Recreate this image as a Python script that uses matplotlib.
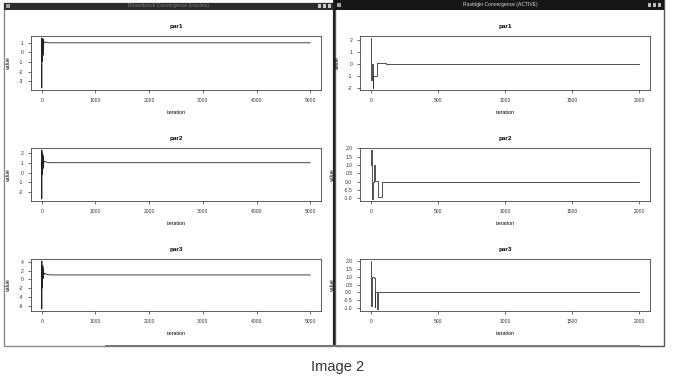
import matplotlib
matplotlib.use("Agg")
import matplotlib.pyplot as plt
from matplotlib.patches import Rectangle

W, H = 678, 384

# Rosenbrock run (5000 iterations), value per iteration at the change points
rb_iter = [0, 1, 2, 4, 6, 8, 10, 12, 14, 16, 18, 20, 22, 24, 26, 28, 30, 32, 34, 36, 38, 40, 60, 100, 150, 5000]
rb_par1 = [-1.2, -3.7, 1.5, -1.0, 1.3, -0.5, 1.4, 0.0, 1.2, -0.8, 1.3, 0.2, 1.4, -0.3, 1.3, 0.3, 1.2, 0.5, 1.2, 0.8, 1.1, 1.05, 1.08, 1.02, 1.0, 1.0]
rb_par2 = [1.0, -2.7, 2.3, 0.0, 2.0, -0.2, 1.8, 0.3, 1.9, 0.1, 1.7, 0.5, 1.8, 0.4, 1.6, 0.8, 1.5, 0.9, 1.3, 1.0, 1.2, 1.1, 1.1, 1.05, 1.0, 1.0]
rb_par3 = [0.5, -6.8, 4.2, -2.0, 3.0, -1.0, 3.2, 0.0, 2.8, -0.5, 2.5, 0.5, 3.0, 0.2, 2.0, 0.8, 2.2, 0.6, 1.8, 1.0, 1.5, 1.2, 1.3, 1.1, 1.0, 1.0]
rb_yticks = [[-3, -2, -1, 0, 1], [-2, -1, 0, 1, 2], [-6, -4, -2, 0, 2, 4]]

# Rastrigin run (2000 iterations), step changes
ra_iter1 = [0, 4, 8, 14, 18, 50, 110, 2000]
ra_par1 = [2.2, -1.3, 0.0, -2.0, -1.0, 0.08, 0.0, 0.0]
ra_iter2 = [0, 3, 10, 14, 27, 34, 52, 82, 2000]
ra_par2 = [1.0, 1.9, -1.05, -0.05, 1.0, 0.05, -0.95, 0.0, 0.0]
ra_iter3 = [0, 3, 10, 22, 28, 32, 49, 54, 107, 2000]
ra_par3 = [2.0, -0.85, 1.0, 0.9, -0.95, 0.0, -1.05, 0.05, 0.0, 0.0]
ra_yticks = [[-2, -1, 0, 1, 2], [-1.0, -0.5, 0.0, 0.5, 1.0, 1.5, 2.0], [-1.0, -0.5, 0.0, 0.5, 1.0, 1.5, 2.0]]

names = ["par1", "par2", "par3"]


def box(x0, y0, x1, y1):
    return [x0 / W, 1 - y1 / H, (x1 - x0) / W, (y1 - y0) / H]


fig = plt.figure(figsize=(W / 100, H / 100), dpi=100)
fig.patch.set_facecolor("white")
plt.rcParams['font.family'] = ['Liberation Sans', 'DejaVu Sans']


# window frames and title bars
def rect(x0, y0, x1, y1, **kw):
    fig.patches.append(Rectangle((x0 / W, 1 - y1 / H), (x1 - x0) / W, (y1 - y0) / H,
                                 transform=fig.transFigure, figure=fig, zorder=-1, **kw))


rect(4, 3, 333, 346, facecolor="white", edgecolor="#8a8a8a", linewidth=1.0)
rect(4, 3, 333, 10, facecolor="#2c2c2c", edgecolor="none")
rect(335, 0, 664, 346, facecolor="white", edgecolor="#555555", linewidth=1.0)
rect(335, 0, 664, 10, facecolor="#161616", edgecolor="none")
rect(333, 0, 335, 346, facecolor="#222222", edgecolor="none")
rect(105, 345, 640, 347, facecolor="#777777", edgecolor="none")
for bx in (318, 323, 328):
    rect(bx, 4, bx + 3, 8, facecolor="#cccccc", edgecolor="none")
for bx in (648, 653, 658):
    rect(bx, 3, bx + 3, 7, facecolor="#bbbbbb", edgecolor="none")
rect(6, 4, 10, 8, facecolor="#9aa4b0", edgecolor="none")
rect(337, 3, 341, 7, facecolor="#9aa4b0", edgecolor="none")

fig.text(168 / W, 1 - 5.5 / H, "Rosenbrock Convergence (inactive)", ha="center", va="center",
         fontsize=3.6, color="#7a7a7a")
fig.text(500 / W, 1 - 4.5 / H, "Rastrigin Convergence (ACTIVE)", ha="center", va="center",
         fontsize=3.6, color="#dddddd")
fig.text(338 / W, 1 - 367 / H, "Image 2", ha="center", va="center", fontsize=10.5, color="#333333")

rows = [(36, 90), (148, 201), (259, 311)]
left_data = [rb_par1, rb_par2, rb_par3]
right_data = [(ra_iter1, ra_par1), (ra_iter2, ra_par2), (ra_iter3, ra_par3)]


def style(ax, name, yt, xt, fmt):
    ax.set_title(name, fontsize=4.6, fontweight="bold", pad=6)
    ax.set_xlabel("iteration", fontsize=3.8, labelpad=5)
    ax.set_ylabel("value", fontsize=3.8, labelpad=6)
    ax.set_yticks(yt)
    ax.set_yticklabels([fmt.format(v) for v in yt])
    ax.set_xticks(xt)
    ax.tick_params(labelsize=3.6, length=2.5, width=0.5, pad=3, colors="#333333")
    ax.margins(x=0.04, y=0.04)
    for s in ax.spines.values():
        s.set_linewidth(0.6)
        s.set_color("#444444")


for i in range(3):
    y0, y1 = rows[i]
    ax = fig.add_axes(box(31, y0, 321, y1), zorder=5)
    ax.plot(rb_iter, left_data[i], color="#222222", linewidth=0.6)
    style(ax, names[i], rb_yticks[i], [0, 1000, 2000, 3000, 4000, 5000], "{:g}")

    ax = fig.add_axes(box(360, y0, 650, y1), zorder=5)
    it, v = right_data[i]
    ax.plot(it, v, color="#333333", linewidth=0.6, drawstyle="steps-post")
    style(ax, names[i], ra_yticks[i], [0, 500, 1000, 1500, 2000],
          "{:g}" if i == 0 else "{:.1f}")

fig.savefig("out.png", dpi=100)
